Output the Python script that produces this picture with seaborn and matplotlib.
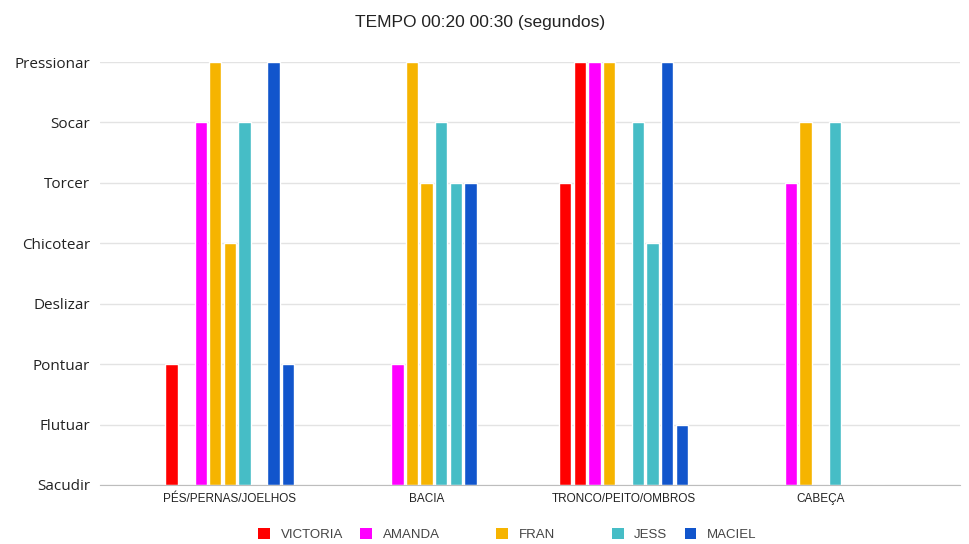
import pandas as pd
import numpy as np
import matplotlib
matplotlib.use("Agg")
import matplotlib.pyplot as plt
import seaborn as sns
from matplotlib.patches import Patch

# Data (0 = Sacudir ... 7 = Pressionar)
partes = ['PÉS/PERNAS/JOELHOS', 'BACIA', 'TRONCO/PEITO/OMBROS', 'CABEÇA']
niveis = ['Sacudir', 'Flutuar', 'Pontuar', 'Deslizar', 'Chicotear', 'Torcer', 'Socar', 'Pressionar']

series = ['VICTORIA', 'VICTORIA 2', 'AMANDA', 'FRAN', 'FRAN 2', 'JESS', 'JESS 2', 'MACIEL', 'MACIEL 2']
victoria = [2, 0, 5, 0]
victoria_2 = [0, 0, 7, 0]
amanda = [6, 2, 7, 5]
fran = [7, 7, 7, 6]
fran_2 = [4, 5, 0, 0]
jess = [6, 6, 6, 6]
jess_2 = [0, 5, 4, 0]
maciel = [7, 5, 7, 0]
maciel_2 = [2, 0, 1, 0]

cores = ['#ff0000', '#ff0000', '#ff00ff', '#f6b400', '#f6b400',
         '#46bdc6', '#46bdc6', '#1155cc', '#1155cc']

valores = [victoria, victoria_2, amanda, fran, fran_2, jess, jess_2, maciel, maciel_2]
rows = []
for nome, vals in zip(series, valores):
    for parte, v in zip(partes, vals):
        rows.append({'parte': parte, 'serie': nome, 'valor': v})
df = pd.DataFrame(rows)

sns.set_style('white')
plt.rcParams['font.family'] = ['Liberation Sans', 'DejaVu Sans']

fig = plt.figure(figsize=(9.7, 5.44), dpi=100)
ax = fig.add_axes([100 / 970, (544 - 485) / 544, 860 / 970, (485 - 62) / 544])

sns.barplot(data=df, x='parte', y='valor', hue='serie', hue_order=series,
            order=partes, palette=cores, saturation=1, width=0.667, gap=0.15,
            dodge=True, legend=False, ax=ax, zorder=3)

for bar in ax.patches:
    bar.set_clip_on(False)

ax.set_ylim(0, 7)
ax.set_xlim(-0.66, 3.71)
ax.set_yticks(range(len(niveis)))
ax.set_yticklabels(niveis, fontsize=11, color='#222222', family=['Open Sans', 'DejaVu Sans'])
ax.tick_params(axis='y', length=0, pad=7)
ax.tick_params(axis='x', length=0, pad=6, labelsize=8.5, labelcolor='#222222')
ax.grid(axis='y', color='#e3e3e3', linewidth=1, zorder=0)
ax.set_xlabel('')
ax.set_ylabel('')
for s in ['top', 'right', 'left']:
    ax.spines[s].set_visible(False)
ax.spines['bottom'].set_color('#bdbdbd')
ax.spines['bottom'].set_zorder(4)

fig.text(0.495, 0.958, 'TEMPO 00:20 00:30 (segundos)', ha='center', va='center',
         fontsize=12.5, color='#222222')

# legend (blank entries reproduce the wider gaps of the original)
legenda = [('VICTORIA', '#ff0000'), ('AMANDA', '#ff00ff'), ('', 'none'),
           ('FRAN', '#f6b400'), ('', 'none'), ('JESS', '#46bdc6'), ('MACIEL', '#1155cc')]
handles = [Patch(facecolor=c, edgecolor='none') for _, c in legenda]
labels = [n for n, _ in legenda]
fig.legend(handles, labels, loc='center', bbox_to_anchor=(0.523, 0.017), ncol=7,
           frameon=False, fontsize=9.5, handlelength=0.9, handleheight=0.9,
           handletextpad=0.8, columnspacing=1.3, labelcolor='#444444')

fig.savefig('out.png', dpi=100)
